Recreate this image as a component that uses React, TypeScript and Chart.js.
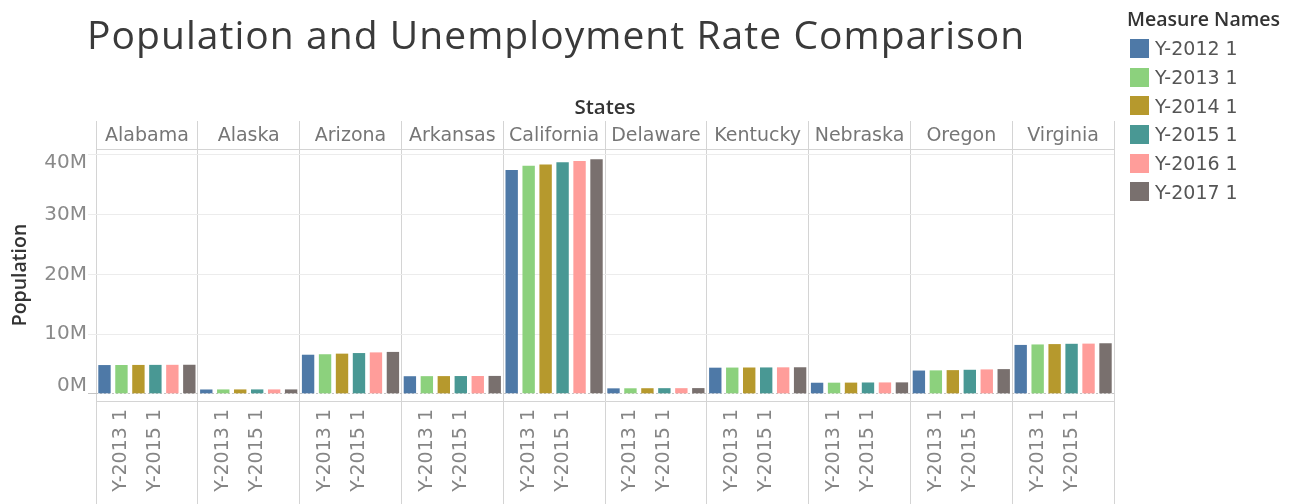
import React, { useEffect, useRef } from 'react';
import { Chart, registerables } from 'chart.js';

Chart.register(...registerables);

const states = ['Alabama', 'Alaska', 'Arizona', 'Arkansas', 'California', 'Delaware', 'Kentucky', 'Nebraska', 'Oregon', 'Virginia'];
const measureNames = ['Y-2012 1', 'Y-2013 1', 'Y-2014 1', 'Y-2015 1', 'Y-2016 1', 'Y-2017 1'];
const colors = ['#4e79a7', '#8cd17d', '#b6992d', '#499894', '#ff9d9a', '#79706e'];

// Population in millions, one array per measure, ordered as `states`
const y2012 = [4.82, 0.73, 6.55, 2.95, 37.5, 0.92, 4.38, 1.86, 3.90, 8.19];
const y2013 = [4.83, 0.74, 6.63, 2.96, 38.2, 0.93, 4.40, 1.87, 3.93, 8.27];
const y2014 = [4.84, 0.74, 6.73, 2.97, 38.4, 0.94, 4.41, 1.88, 3.97, 8.33];
const y2015 = [4.85, 0.74, 6.83, 2.98, 38.8, 0.95, 4.42, 1.90, 4.03, 8.38];
const y2016 = [4.86, 0.74, 6.94, 2.99, 39.0, 0.95, 4.44, 1.91, 4.09, 8.41];
const y2017 = [4.87, 0.74, 7.02, 3.00, 39.3, 0.96, 4.45, 1.92, 4.14, 8.47];
const series = [y2012, y2013, y2014, y2015, y2016, y2017];

const yMin = -1.2;
const yMax = 41;
const yStep = 10;

const FONT = "'Open Sans', 'DejaVu Sans', sans-serif";
const TICK_FONT = "'DejaVu Sans', 'Open Sans', sans-serif";
const PANEL_LINE = '#d4d4d4';

export default function App() {
  const canvasRef = useRef<HTMLCanvasElement | null>(null);

  useEffect(() => {
    document.body.style.margin = '0';
    const canvas = canvasRef.current;
    if (!canvas) return;

    const labels: string[] = [];
    states.forEach(() => measureNames.forEach((m) => labels.push(m)));

    const datasets = measureNames.map((name, j) => {
      const data: (number | null)[] = labels.map(() => null);
      states.forEach((_, s) => {
        data[s * measureNames.length + j] = series[j][s];
      });
      return {
        label: name,
        data,
        backgroundColor: colors[j],
        borderWidth: 0,
        barPercentage: 0.73,
        categoryPercentage: 1,
      };
    });

    const n = measureNames.length;

    const chart = new Chart(canvas, {
      type: 'bar',
      data: { labels, datasets },
      options: {
        animation: false,
        responsive: false,
        maintainAspectRatio: false,
        layout: { padding: { left: 0, right: 184, top: 90, bottom: 0 } },
        plugins: {
          legend: { display: false },
          tooltip: { enabled: false },
          title: { display: false },
        },
        scales: {
          x: {
            type: 'category',
            position: 'bottom',
            stacked: true,
            afterFit: (scale: any) => { scale.height = 103; },
            grid: {
              display: true,
              offset: true,
              drawOnChartArea: true,
              drawTicks: true,
              tickLength: 110,
              color: (ctx: any) =>
                ctx.index === undefined || ctx.index % n === 0 ? PANEL_LINE : 'rgba(0,0,0,0)',
            },
            border: { display: true, color: PANEL_LINE },
            ticks: {
              autoSkip: false,
              maxRotation: 90,
              minRotation: 90,
              padding: -102,
              color: '#858585',
              font: { family: TICK_FONT, size: 19 },
              callback: (_v: any, idx: number) =>
                idx % n === 1 || idx % n === 3 ? measureNames[idx % n] : '',
            },
          },
          xTop: {
            type: 'category',
            position: 'top',
            labels: states,
            afterFit: (scale: any) => { scale.height = 59; },
            grid: {
              display: true,
              offset: true,
              drawOnChartArea: false,
              drawTicks: true,
              tickLength: 28,
              color: PANEL_LINE,
            },
            border: { display: true, color: PANEL_LINE },
            ticks: {
              autoSkip: false,
              maxRotation: 0,
              padding: -26,
              color: '#767676',
              font: { family: TICK_FONT, size: 19 },
            },
            title: {
              display: true,
              text: 'States',
              color: '#333333',
              font: { family: FONT, size: 20.5, weight: 600 },
              padding: { top: 6, bottom: 0 },
            },
          },
          y: {
            type: 'linear',
            position: 'left',
            min: yMin,
            max: yMax,
            afterFit: (scale: any) => { scale.width = 96; },
            grid: {
              display: true,
              drawTicks: true,
              tickLength: 8,
              color: (ctx: any) => (ctx.tick && ctx.tick.value === 0 ? '#c4c4c4' : '#ececec'),
            },
            border: {
              display: false,
              dash: (ctx: any) => (ctx.tick && ctx.tick.value === 0 ? [2, 2] : []),
            },
            ticks: {
              stepSize: yStep,
              includeBounds: false,
              padding: 1,
              color: '#8a8a8a',
              font: { family: TICK_FONT, size: 20, lineHeight: 0.8 },
              callback: (v: any) => {
                if (v === 40) return ['', `${v}M`];
                if (v === 0) return [`${v}M`, ''];
                return `${v}M`;
              },
            },
            title: {
              display: true,
              text: 'Population',
              color: '#333333',
              font: { family: FONT, size: 19.5, weight: 600 },
              padding: { top: 9, bottom: 0 },
            },
          },
        },
      },
    } as any);

    return () => chart.destroy();
  }, []);

  return (
    <div style={{ position: 'relative', width: 1298, height: 504, background: '#fff', overflow: 'hidden' }}>
      <canvas ref={canvasRef} width={1298} height={504} style={{ position: 'absolute', left: 0, top: 0 }} />
      <div
        style={{
          position: 'absolute',
          left: 87,
          top: 6,
          fontFamily: FONT,
          fontSize: 39,
          letterSpacing: '1.05px',
          color: '#3a3a3a',
          whiteSpace: 'nowrap',
          lineHeight: '56px',
        }}
      >
        Population and Unemployment Rate Comparison
      </div>
      <div style={{ position: 'absolute', left: 1127, top: 4, fontFamily: FONT }}>
        <div style={{ fontSize: 19.5, fontWeight: 600, color: '#333', lineHeight: '30px', whiteSpace: 'nowrap' }}>
          Measure Names
        </div>
        {measureNames.map((m, i) => (
          <div
            key={m}
            style={{ display: 'flex', alignItems: 'center', height: 28.7, whiteSpace: 'nowrap' }}
          >
            <div style={{ width: 19, height: 19, background: colors[i], marginLeft: 3, marginRight: 6 }} />
            <div style={{ fontSize: 19, fontFamily: TICK_FONT, color: '#555', lineHeight: '28px' }}>{m}</div>
          </div>
        ))}
      </div>
    </div>
  );
}
